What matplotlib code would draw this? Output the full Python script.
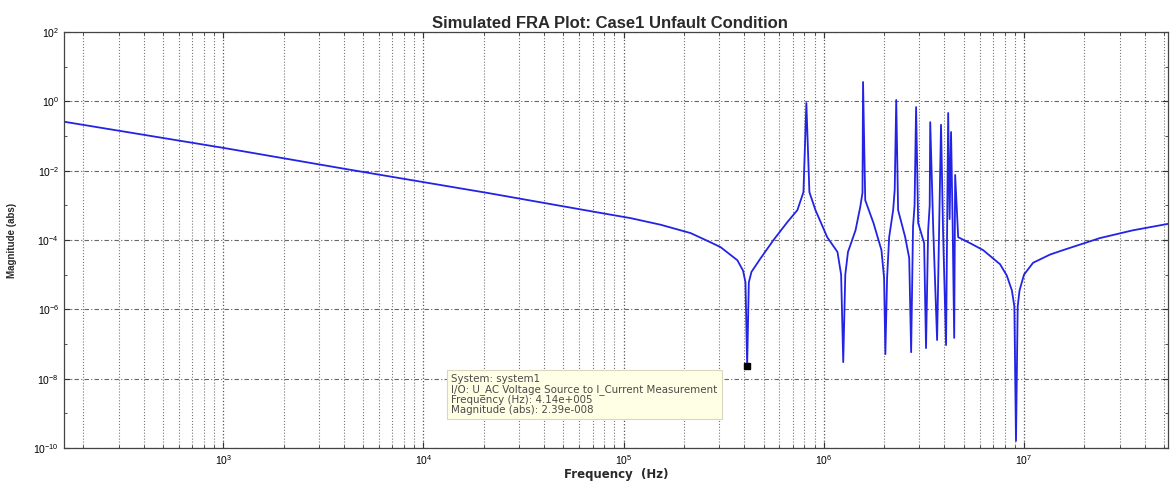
import matplotlib
matplotlib.use("Agg")
import matplotlib.pyplot as plt
from matplotlib.ticker import LogLocator, LogFormatterMathtext, NullFormatter

plt.rcParams['font.family'] = ['Liberation Sans', 'DejaVu Sans']

# FRA magnitude response (Hz, abs)
freq_hz = [
    163, 1010, 4100, 2.1e4, 7.7e4, 1.08e5, 1.53e5, 2.16e5, 2.7e5, 3.05e5, 3.70e5, 3.95e5, 4.06e5,
    4.14e5, 4.22e5, 4.35e5, 4.82e5, 5.60e5, 6.58e5, 7.38e5, 7.91e5,
    8.18e5, 8.47e5, 9.08e5, 1.04e6, 1.17e6, 1.22e6,
    1.25e6, 1.28e6, 1.32e6, 1.44e6, 1.52e6, 1.56e6,
    1.57e6, 1.61e6, 1.77e6, 1.94e6, 2.0e6,
    2.03e6, 2.07e6, 2.12e6, 2.22e6, 2.26e6,
    2.30e6, 2.35e6, 2.55e6, 2.67e6,
    2.73e6, 2.79e6, 2.84e6,
    2.89e6, 2.96e6, 3.17e6,
    3.24e6, 3.32e6, 3.38e6,
    3.40e6, 3.52e6,
    3.68e6, 3.77e6,
    3.85e6, 3.94e6,
    4.08e6,
    4.18e6, 4.25e6,
    4.32e6, 4.40e6,
    4.48e6,
    4.53e6, 4.69e6, 5.4e6, 6.25e6, 7.59e6, 8.2e6, 8.7e6, 8.95e6,
    9.12e6, 9.3e6, 9.5e6, 1.0e7, 1.11e7, 1.35e7, 1.60e7, 2.39e7, 3.5e7, 5.22e7,
]
mag_abs = [
    0.253, 0.0449, 0.0111, 2.26e-3, 6.0e-4, 4.28e-4, 2.75e-4, 1.58e-4, 8.7e-5, 6.2e-5, 2.6e-5, 1.3e-5, 6.0e-6,
    2.39e-8, 6.0e-6, 1.2e-5, 2.9e-5, 9.9e-5, 3.3e-4, 7.3e-4, 2.4e-3,
    0.89, 2.4e-3, 7.3e-4, 1.2e-4, 4.5e-5, 1.0e-5,
    3.0e-8, 1.0e-5, 4.5e-5, 1.9e-4, 8.9e-4, 2.3e-3,
    3.6, 1.4e-3, 3.1e-4, 5.1e-5, 8.0e-6,
    5.1e-8, 8.0e-6, 1.2e-4, 7.3e-4, 2.8e-3,
    1.09, 7.3e-4, 1.2e-4, 3.0e-5,
    5.8e-8, 2.4e-4, 1.0e-3,
    0.68, 3.1e-4, 8.1e-5,
    7.6e-8, 1.9e-4, 1.0e-3,
    0.25, 2.1e-4,
    1.3e-7, 2.7e-4,
    0.21, 1.9e-4,
    9.3e-8,
    0.46, 4.0e-4,
    0.13, 3.0e-4,
    1.5e-7,
    7.5e-3, 1.2e-4, 8.0e-5, 5.1e-5, 2.0e-5, 9.5e-6, 3.5e-6, 1.2e-6,
    1.6e-10, 1.2e-6, 3.5e-6, 1.0e-5, 2.2e-5, 3.8e-5, 5.3e-5, 1.13e-4, 1.9e-4, 2.9e-4,
]

# data cursor point
cursor_f = 4.14e5
cursor_mag = 2.39e-8
cursor_lines = [
    "System: system1",
    "I/O: U_AC Voltage Source to I_Current Measurement",
    "Frequency (Hz): 4.14e+005",
    "Magnitude (abs): 2.39e-008",
]

fig = plt.figure(figsize=(11.7, 4.84), dpi=100)
ax = fig.add_axes([0.0547, 0.0744, 0.9433, 0.8596])

ax.loglog(freq_hz, mag_abs, color='#2323e6', linewidth=1.3)
ax.plot([cursor_f], [cursor_mag], marker='s', color='black',
        markersize=5, linestyle='none')

ax.set_xlim(160, 5.22e7)
ax.set_ylim(1e-10, 1e2)

ax.xaxis.set_major_locator(LogLocator(base=10, numticks=20))
ax.xaxis.set_minor_locator(LogLocator(base=10, subs=range(2, 10), numticks=20))
ax.xaxis.set_major_formatter(LogFormatterMathtext())
ax.xaxis.set_minor_formatter(NullFormatter())
ax.set_yticks([10.0**e for e in range(-10, 3, 2)])
ax.yaxis.set_major_formatter(LogFormatterMathtext())
ax.yaxis.set_minor_locator(LogLocator(base=10, subs=[], numticks=20))
ax.yaxis.set_minor_formatter(NullFormatter())

ax.tick_params(which='both', direction='in', top=True, right=True,
               labelsize=7.5, color='#333333')
ax.tick_params(which='major', length=4)
ax.tick_params(which='minor', length=2)

ax.grid(True, which='major', axis='x', color='#555555', linestyle=':', linewidth=0.9)
ax.grid(True, which='minor', axis='x', color='#777777', linestyle=':', linewidth=0.8)
ax.grid(True, which='major', axis='y', color='#666666',
        linestyle=(0, (4, 2, 1, 2)), linewidth=0.8)
for s in ax.spines.values():
    s.set_color('#444444')
    s.set_linewidth(0.9)

ax.set_title("Simulated FRA Plot: Case1 Unfault Condition",
             fontsize=12, fontweight='bold', color='#2a2a2a', pad=3, x=0.495)
ax.set_xlabel("Frequency  (Hz)", fontsize=8.5, fontweight='bold', color='#2a2a2a',
              labelpad=1, family=['DejaVu Sans'])
ax.set_ylabel("Magnitude (abs)", fontsize=7, fontweight='bold', color='#2a2a2a', labelpad=12)

ax.text(0.351, 0.178, "\n".join(cursor_lines), transform=ax.transAxes,
        fontsize=7.4, color='#4a4a4a', va='top', ha='left', linespacing=1.0,
        family=['DejaVu Sans'],
        bbox=dict(boxstyle='square,pad=0.4', facecolor='#ffffe6',
                  edgecolor='#d8d8c0', linewidth=0.8))

fig.savefig("out.png", dpi=100)
